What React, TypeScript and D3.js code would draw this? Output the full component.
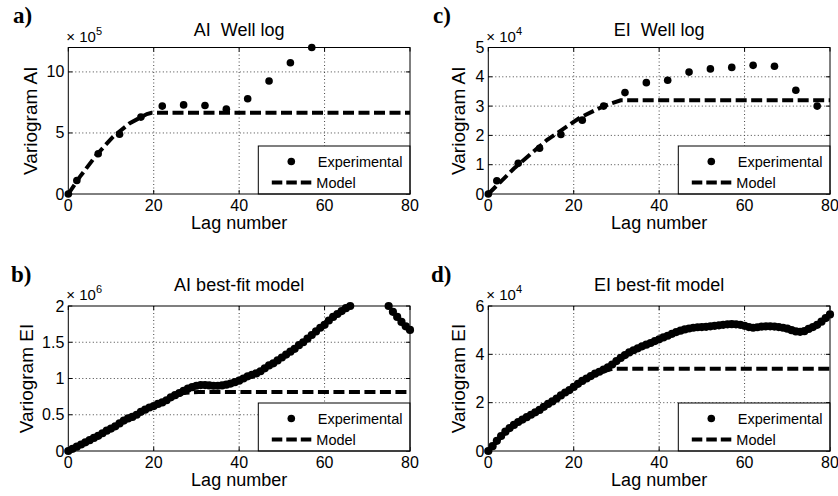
import React from 'react';
import * as d3 from 'd3';

const FONT = "'Liberation Sans', Arial, Helvetica, sans-serif";

const lagTicks = [0, 20, 40, 60, 80];
const legendLabels = ['Experimental', 'Model'];
const xLabel = 'Lag number';

// a) AI well log (x 10^5)
const aExpLag = [0, 2, 7, 12, 17, 22, 27, 32, 37, 42, 47, 52, 57];
const aExpVal = [0, 1.1, 3.3, 4.9, 6.3, 7.2, 7.3, 7.25, 6.95, 7.8, 9.25, 10.75, 12.0];
const aModelLag = [0, 2.7, 6.6, 10.5, 14.4, 18.4, 19.5, 80];
const aModelVal = [0, 1.4, 3.2, 4.7, 5.8, 6.55, 6.65, 6.65];
const aYTicks = [0, 5, 10];

// c) EI well log (x 10^4)
const cExpLag = [0, 2, 7, 12, 17, 22, 27, 32, 37, 42, 47, 52, 57, 62, 67, 72, 77];
const cExpVal = [0, 0.45, 1.05, 1.56, 2.03, 2.52, 3.0, 3.46, 3.8, 3.88, 4.16, 4.27, 4.32, 4.39, 4.36, 3.54, 3.0];
const cModelLag = [0, 6, 13.7, 21.5, 27, 31, 80];
const cModelVal = [0, 0.87, 1.84, 2.61, 3.0, 3.2, 3.2];
const cYTicks = [0, 1, 2, 3, 4, 5];

// b) AI best-fit model (x 10^6), one value per lag 0..80
const bExpVal = [
  0, 0.03, 0.06, 0.09, 0.12, 0.15, 0.18, 0.21, 0.245, 0.28,
  0.31, 0.34, 0.38, 0.42, 0.45, 0.47, 0.5, 0.54, 0.57, 0.6,
  0.62, 0.65, 0.67, 0.7, 0.74, 0.77, 0.8, 0.83, 0.86, 0.88,
  0.9, 0.91, 0.91, 0.905, 0.9, 0.9, 0.905, 0.915, 0.93, 0.95,
  0.97, 1.0, 1.03, 1.05, 1.07, 1.1, 1.14, 1.18, 1.21, 1.25,
  1.29, 1.33, 1.37, 1.41, 1.46, 1.5, 1.55, 1.6, 1.65, 1.7,
  1.74, 1.8, 1.85, 1.89, 1.93, 1.97, 2.0, 2.05, 2.09, 2.12,
  2.14, 2.15, 2.14, 2.1, 2.05, 2.0, 1.92, 1.85, 1.78, 1.72,
  1.67,
];
const bModelLag = [0, 10, 20, 27, 30.5, 80];
const bModelVal = [0, 0.31, 0.62, 0.8, 0.815, 0.815];
const bYTicks = [0, 0.5, 1, 1.5, 2];

// d) EI best-fit model (x 10^4), one value per lag 0..80
const dExpVal = [
  0, 0.2, 0.42, 0.62, 0.8, 0.95, 1.08, 1.2, 1.3, 1.4,
  1.5, 1.6, 1.7, 1.83, 1.95, 2.05, 2.17, 2.3, 2.42, 2.52,
  2.65, 2.78, 2.9, 3.0, 3.1, 3.2, 3.28, 3.37, 3.46, 3.58,
  3.72, 3.85, 3.97, 4.08, 4.17, 4.25, 4.33, 4.4, 4.47, 4.55,
  4.62, 4.7, 4.77, 4.85, 4.92, 4.98, 5.03, 5.07, 5.1, 5.12,
  5.13, 5.14, 5.16, 5.18, 5.2, 5.22, 5.24, 5.25, 5.24, 5.22,
  5.18, 5.13, 5.1, 5.12, 5.15, 5.16, 5.16, 5.15, 5.13, 5.1,
  5.06, 5.0, 4.95, 4.93, 4.96, 5.05, 5.13, 5.22, 5.35, 5.5,
  5.65,
];
const dModelLag = [0, 5, 10, 15, 20, 25, 29, 30.5, 80];
const dModelVal = [0, 0.95, 1.5, 2.05, 2.65, 3.2, 3.4, 3.4, 3.4];
const dYTicks = [0, 2, 4, 6];

type P = {
  id: string;
  letter: string;
  title: string;
  yLabel: string;
  exponent: string;
  left: number;
  right: number;
  top: number;
  bottom: number;
  yMax: number;
  yTicks: number[];
  expLag: number[];
  expVal: number[];
  modelLag: number[];
  modelVal: number[];
  yLabelX: number;
  titleY: number;
  letterX: number;
  letterY: number;
  markerR: number;
};

const panels: P[] = [
  {
    id: 'a', letter: 'a)', title: 'AI  Well log', yLabel: 'Variogram AI', exponent: '5',
    left: 68.3, right: 410, top: 47.5, bottom: 194, yMax: 12, yTicks: aYTicks,
    expLag: aExpLag, expVal: aExpVal, modelLag: aModelLag, modelVal: aModelVal,
    yLabelX: 37, titleY: 36, letterX: 13, letterY: 23, markerR: 3.8,
  },
  {
    id: 'c', letter: 'c)', title: 'EI  Well log', yLabel: 'Variogram AI', exponent: '4',
    left: 488.3, right: 830, top: 47.5, bottom: 194, yMax: 5, yTicks: cYTicks,
    expLag: cExpLag, expVal: cExpVal, modelLag: cModelLag, modelVal: cModelVal,
    yLabelX: 465, titleY: 36, letterX: 433, letterY: 23, markerR: 3.8,
  },
  {
    id: 'b', letter: 'b)', title: 'AI best-fit model', yLabel: 'Variogram EI', exponent: '6',
    left: 68.3, right: 410, top: 306, bottom: 451, yMax: 2, yTicks: bYTicks,
    expLag: bExpVal.map((_, i) => i), expVal: bExpVal, modelLag: bModelLag, modelVal: bModelVal,
    yLabelX: 33, titleY: 291, letterX: 11, letterY: 282, markerR: 4.1,
  },
  {
    id: 'd', letter: 'd)', title: 'EI best-fit model', yLabel: 'Variogram EI', exponent: '4',
    left: 488.3, right: 830, top: 306, bottom: 451, yMax: 6, yTicks: dYTicks,
    expLag: dExpVal.map((_, i) => i), expVal: dExpVal, modelLag: dModelLag, modelVal: dModelVal,
    yLabelX: 465, titleY: 291, letterX: 431, letterY: 282, markerR: 4.1,
  },
];

function Panel({ p }: { p: P }) {
  const x = d3.scaleLinear().domain([0, 80]).range([p.left, p.right]);
  const y = d3.scaleLinear().domain([0, p.yMax]).range([p.bottom, p.top]);
  const line = d3
    .line<[number, number]>()
    .x((d) => x(d[0]))
    .y((d) => y(d[1]));
  const exp: [number, number][] = p.expLag
    .map((l, i) => [l, p.expVal[i]] as [number, number])
    .filter((d) => d[1] <= p.yMax + 1e-9);
  const model: [number, number][] = p.modelLag.map((l, i) => [l, p.modelVal[i]] as [number, number]);
  const cx = (p.left + p.right) / 2;
  const cy = (p.top + p.bottom) / 2;
  const lgW = 151.7;
  const lgH = 48;
  const lgX = p.right - lgW;
  const lgY = p.bottom - lgH;
  const tickLen = 4;
  const fmt = (v: number) => String(v);

  return (
    <g>
      <rect x={p.left} y={p.top} width={p.right - p.left} height={p.bottom - p.top} fill="#fff" />
      {/* grid */}
      {lagTicks
        .filter((t) => t > 0 && t < 80)
        .map((t) => (
          <line key={'gx' + t} x1={x(t)} x2={x(t)} y1={p.top} y2={p.bottom} stroke="#444" strokeWidth={1} strokeDasharray="1,2.5" />
        ))}
      {p.yTicks
        .filter((t) => t > 0 && t < p.yMax)
        .map((t) => (
          <line key={'gy' + t} x1={p.left} x2={p.right} y1={y(t)} y2={y(t)} stroke="#444" strokeWidth={1} strokeDasharray="1,2.5" />
        ))}
      {/* ticks */}
      {lagTicks.map((t) => (
        <g key={'tx' + t}>
          <line x1={x(t)} x2={x(t)} y1={p.bottom} y2={p.bottom - tickLen} stroke="#000" />
          <line x1={x(t)} x2={x(t)} y1={p.top} y2={p.top + tickLen} stroke="#000" />
          <text x={x(t)} y={p.bottom + 16.5} textAnchor="middle" fontSize={16} fontFamily={FONT} fill="#000">
            {fmt(t)}
          </text>
        </g>
      ))}
      {p.yTicks.map((t) => (
        <g key={'ty' + t}>
          <line x1={p.left} x2={p.left + tickLen} y1={y(t)} y2={y(t)} stroke="#000" />
          <line x1={p.right} x2={p.right - tickLen} y1={y(t)} y2={y(t)} stroke="#000" />
          <text x={p.left - 4} y={y(t) + 5.5} textAnchor="end" fontSize={16} fontFamily={FONT} fill="#000">
            {fmt(t)}
          </text>
        </g>
      ))}
      {/* model */}
      <path d={line(model) || ''} fill="none" stroke="#000" strokeWidth={4} strokeDasharray="11,4.5" />
      {/* experimental */}
      {exp.map((d, i) => (
        <circle key={'e' + i} cx={x(d[0])} cy={y(d[1])} r={p.markerR} fill="#000" />
      ))}
      {/* legend */}
      <rect x={lgX} y={lgY} width={lgW} height={lgH} fill="#fff" stroke="#000" strokeWidth={1} />
      <circle cx={lgX + 33} cy={lgY + 15.5} r={3.8} fill="#000" />
      <text x={lgX + 59.5} y={lgY + 20.5} fontSize={14.5} fontFamily={FONT} fill="#000">
        {legendLabels[0]}
      </text>
      <line x1={lgX + 13.5} x2={lgX + 56} y1={lgY + 36.5} y2={lgY + 36.5} stroke="#000" strokeWidth={4} strokeDasharray="10.5,4" />
      <text x={lgX + 58} y={lgY + 41.5} fontSize={14.5} fontFamily={FONT} fill="#000">
        {legendLabels[1]}
      </text>
      {/* box */}
      <rect x={p.left} y={p.top} width={p.right - p.left} height={p.bottom - p.top} fill="none" stroke="#000" strokeWidth={1} />
      {/* labels */}
      <text x={cx} y={p.titleY} textAnchor="middle" fontSize={18} fontFamily={FONT} fill="#000" style={{ whiteSpace: 'pre' }}>
        {p.title}
      </text>
      <text x={cx} y={p.bottom + 34.5} textAnchor="middle" fontSize={18} fontFamily={FONT} fill="#000">
        {xLabel}
      </text>
      <text
        x={p.yLabelX}
        y={cy}
        transform={`rotate(-90 ${p.yLabelX} ${cy})`}
        textAnchor="middle"
        fontSize={19}
        fontFamily={FONT}
        fill="#000"
      >
        {p.yLabel}
      </text>
      <text x={p.left - 2} y={p.top - 6} fontSize={15} fontFamily={FONT} fill="#000">
        {'\u00d7 10'}
        <tspan fontSize={11} dy={-7}>
          {p.exponent}
        </tspan>
      </text>
      <text x={p.letterX} y={p.letterY} fontSize={23} fontWeight="bold" fontFamily="'Liberation Serif', 'Times New Roman', serif" fill="#000">
        {p.letter}
      </text>
    </g>
  );
}

export default function App() {
  return (
    <svg
      width={838}
      height={496}
      viewBox="0 0 838 496"
      style={{ position: 'absolute', left: 0, top: 0, background: '#fff' }}
    >
      <rect x={0} y={0} width={838} height={496} fill="#fff" />
      {panels.map((p) => (
        <Panel key={p.id} p={p} />
      ))}
    </svg>
  );
}
